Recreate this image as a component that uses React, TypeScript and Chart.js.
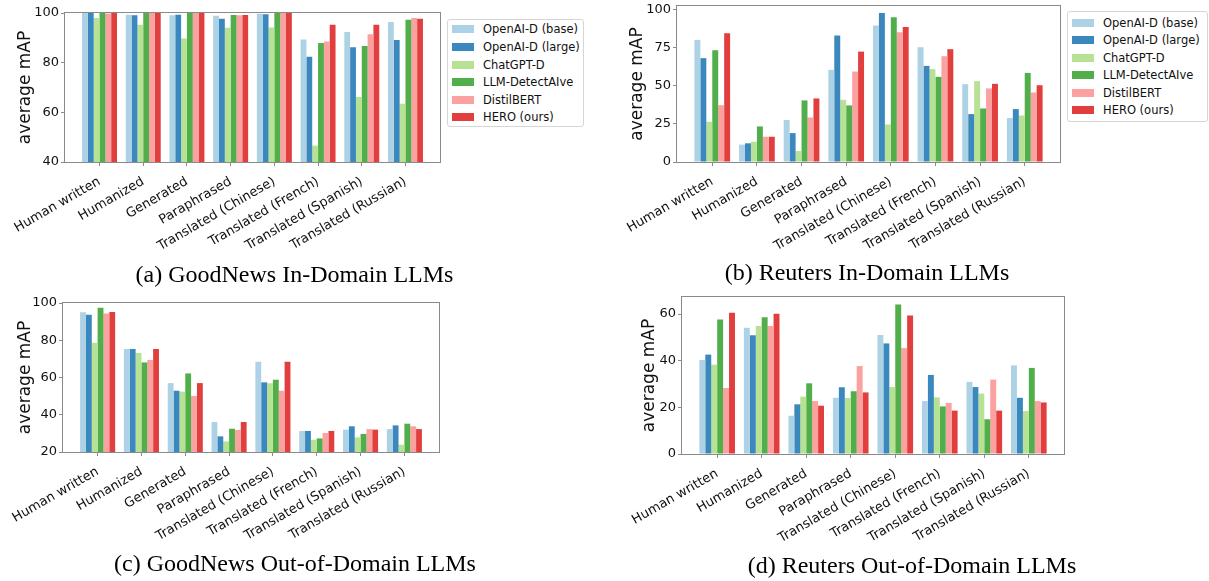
import React, { useEffect, useRef } from "react";
import { Chart, registerables } from "chart.js";

Chart.register(...registerables);

// ---------- data ----------
const categories = [
  "Human written",
  "Humanized",
  "Generated",
  "Paraphrased",
  "Translated (Chinese)",
  "Translated (French)",
  "Translated (Spanish)",
  "Translated (Russian)",
];

const seriesNames = [
  "OpenAI-D (base)",
  "OpenAI-D (large)",
  "ChatGPT-D",
  "LLM-DetectAIve",
  "DistilBERT",
  "HERO (ours)",
];

const seriesColors = [
  "rgba(166,206,227,0.92)",
  "rgba(31,120,180,0.88)",
  "rgba(178,223,138,0.92)",
  "rgba(51,160,44,0.85)",
  "rgba(251,154,153,0.92)",
  "rgba(220,30,30,0.86)",
];

// (a) GoodNews In-Domain
const aBase = [100, 99.3, 99.1, 98.9, 99.7, 89.3, 92.3, 96.4];
const aLarge = [100, 99.1, 99.3, 97.7, 99.5, 82.4, 86.2, 89.1];
const aChatGPT = [98.0, 95.3, 89.7, 94.1, 94.2, 46.6, 66.2, 63.5];
const aDetect = [100, 100, 100, 99.2, 100, 87.9, 86.7, 97.3];
const aDistil = [99.8, 100, 100, 99.1, 100, 88.5, 91.4, 98.0];
const aHero = [100, 100, 100, 99.2, 100, 95.3, 95.3, 97.7];

// (b) Reuters In-Domain
const bBase = [80.3, 11.4, 27.6, 60.6, 89.7, 75.5, 51.2, 28.9];
const bLarge = [68.3, 12.3, 19.0, 83.2, 98.0, 63.2, 31.5, 34.8];
const bChatGPT = [26.5, 13.3, 7.2, 40.9, 24.7, 61.1, 53.2, 30.6];
const bDetect = [73.5, 23.4, 40.5, 37.2, 95.2, 56.0, 35.2, 58.6];
const bDistil = [37.4, 16.6, 29.3, 59.5, 85.3, 69.6, 48.4, 45.7];
const bHero = [84.7, 16.6, 41.8, 72.6, 88.8, 74.2, 51.4, 50.5];

// (c) GoodNews Out-of-Domain
const cBase = [95.0, 75.3, 57.0, 36.1, 68.5, 31.3, 32.0, 32.3];
const cLarge = [93.7, 75.3, 52.9, 28.4, 57.4, 31.3, 33.8, 34.3];
const cChatGPT = [78.7, 73.2, 52.4, 25.7, 56.9, 26.6, 27.9, 23.9];
const cDetect = [97.5, 68.1, 62.2, 32.5, 58.8, 27.3, 29.7, 35.2];
const cDistil = [94.3, 69.4, 50.1, 31.8, 52.9, 30.2, 32.3, 33.8];
const cHero = [95.2, 75.3, 57.0, 36.1, 68.5, 31.3, 32.0, 32.3];

// (d) Reuters Out-of-Domain
const dBase = [40.3, 54.1, 16.4, 24.1, 51.0, 22.7, 30.9, 38.0];
const dLarge = [42.6, 50.9, 21.3, 28.6, 47.4, 33.9, 28.7, 24.1];
const dChatGPT = [38.3, 54.9, 24.6, 24.0, 28.7, 24.3, 25.9, 18.4];
const dDetect = [57.7, 58.6, 30.3, 26.9, 64.1, 20.4, 14.9, 36.9];
const dDistil = [28.3, 54.9, 22.7, 37.7, 45.4, 21.9, 31.9, 22.7];
const dHero = [60.6, 60.1, 20.7, 26.4, 59.4, 18.6, 18.6, 22.1];

const aTicks = [40, 60, 80, 100];
const bTicks = [0, 25, 50, 75, 100];
const cTicks = [20, 40, 60, 80, 100];
const dTicks = [0, 20, 40, 60];

const captionA = "(a) GoodNews In-Domain LLMs";
const captionB = "(b) Reuters In-Domain LLMs";
const captionC = "(c) GoodNews Out-of-Domain LLMs";
const captionD = "(d) Reuters Out-of-Domain LLMs";
const yTitle = "average mAP";

// ---------- layout ----------
const SANS = "'DejaVu Sans', sans-serif";
const SERIF = "'Liberation Serif', 'Times New Roman', serif";

type Panel = {
  series: number[][];
  yMin: number;
  yMax: number;
  yTicks: number[];
  left: number;
  top: number;
  w: number;
  h: number;
  yAxisW: number;
  xAxisH: number;
  padTop: number;
  padRight: number;
  titlePad: number;
};

const panels: Panel[] = [
  {
    series: [aBase, aLarge, aChatGPT, aDetect, aDistil, aHero],
    yMin: 40, yMax: 100, yTicks: aTicks,
    left: 0, top: 0, w: 445, h: 290, yAxisW: 65, xAxisH: 128, padTop: 13, padRight: 5, titlePad: 15,
  },
  {
    series: [bBase, bLarge, bChatGPT, bDetect, bDistil, bHero],
    yMin: 0, yMax: 102.6, yTicks: bTicks,
    left: 612, top: 0, w: 453, h: 290, yAxisW: 65, xAxisH: 128, padTop: 6, padRight: 5, titlePad: 15,
  },
  {
    series: [cBase, cLarge, cChatGPT, cDetect, cDistil, cHero],
    yMin: 20, yMax: 100, yTicks: cTicks,
    left: 0, top: 290, w: 444, h: 290, yAxisW: 63, xAxisH: 128, padTop: 13, padRight: 5, titlePad: 15,
  },
  {
    series: [dBase, dLarge, dChatGPT, dDetect, dDistil, dHero],
    yMin: 0, yMax: 67.3, yTicks: dTicks,
    left: 617, top: 285, w: 452, h: 290, yAxisW: 65, xAxisH: 121, padTop: 12, padRight: 5, titlePad: 22,
  },
];

const framePlugin = {
  id: "frame",
  afterDatasetsDraw(chart: any) {
    const { ctx, chartArea: a } = chart;
    ctx.save();
    ctx.strokeStyle = "#8a8a8a";
    ctx.lineWidth = 1;
    ctx.strokeRect(
      Math.round(a.left) - 0.5,
      Math.round(a.top) - 0.5,
      Math.round(a.right - a.left) + 1,
      Math.round(a.bottom - a.top) + 1
    );
    ctx.restore();
  },
};

function BarPanel({ p }: { p: Panel }) {
  const ref = useRef<HTMLCanvasElement>(null);
  useEffect(() => {
    const chart = new Chart(ref.current as HTMLCanvasElement, {
      type: "bar",
      data: {
        datasets: p.series.map((vals, s) => ({
          label: seriesNames[s],
          data: vals.map((v, i) => ({ x: i, y: v })),
          backgroundColor: seriesColors[s],
          borderWidth: 0,
          categoryPercentage: 0.8,
          barPercentage: 1.0,
        })),
      },
      options: {
        animation: false,
        responsive: false,
        maintainAspectRatio: false,
        layout: { padding: { top: p.padTop, right: p.padRight, left: 0, bottom: 0 } },
        plugins: { legend: { display: false }, tooltip: { enabled: false } },
        scales: {
          x: {
            type: "linear",
            min: -0.79,
            max: 7.79,
            offset: false,
            afterBuildTicks: (s: any) => {
              s.ticks = categories.map((_, i) => ({ value: i }));
            },
            afterFit: (s: any) => {
              s.height = p.xAxisH;
              s.paddingLeft = 0;
              s.paddingRight = 0;
            },
            ticks: {
              autoSkip: false,
              minRotation: 30,
              maxRotation: 30,
              padding: 8,
              color: "#111",
              font: { family: SANS, size: 13 },
              callback: (v: any) => categories[v] ?? "",
            },
            grid: { offset: false, drawOnChartArea: false, drawTicks: true, tickLength: 4, color: "#8a8a8a" },
            border: { display: false },
          },
          y: {
            type: "linear",
            min: p.yMin,
            max: p.yMax,
            afterBuildTicks: (s: any) => {
              s.ticks = p.yTicks.map((v) => ({ value: v }));
            },
            afterFit: (s: any) => {
              s.width = p.yAxisW;
              s.paddingTop = 0;
              s.paddingBottom = 0;
            },
            ticks: {
              padding: 2,
              color: "#111",
              font: { family: SANS, size: 13 },
              callback: (v: any) => String(v),
            },
            grid: { drawOnChartArea: false, drawTicks: true, tickLength: 4, color: "#8a8a8a" },
            border: { display: false },
            title: {
              display: true,
              text: yTitle,
              color: "#111",
              font: { family: SANS, size: 17 },
              padding: { top: p.titlePad, bottom: 0 },
            },
          },
        },
      } as any,
      plugins: [framePlugin],
    });
    return () => chart.destroy();
  }, []);
  return (
    <canvas
      ref={ref}
      width={p.w}
      height={p.h}
      style={{ position: "absolute", left: p.left, top: p.top, width: p.w, height: p.h }}
    />
  );
}

function Legend({ left, top, width, height, rowGap, firstRow }: { left: number; top: number; width: number; height: number; rowGap: number; firstRow: number }) {
  return (
    <div
      style={{
        position: "absolute",
        left,
        top,
        width,
        height,
        boxSizing: "border-box",
        border: "1px solid #d6d6d6",
        borderRadius: 3,
        background: "rgba(255,255,255,0.85)",
      }}
    >
      {seriesNames.map((name, i) => (
        <div
          key={name}
          style={{
            position: "absolute",
            left: 0,
            top: firstRow + i * rowGap - 9,
            height: 18,
            display: "flex",
            alignItems: "center",
            whiteSpace: "nowrap",
          }}
        >
          <div style={{ marginLeft: 4, width: 22, height: 8, background: seriesColors[i] }} />
          <span style={{ marginLeft: 9, font: `11.5px ${SANS}`, color: "#111" }}>{name}</span>
        </div>
      ))}
    </div>
  );
}

function Caption({ text, cx, top }: { text: string; cx: number; top: number }) {
  return (
    <div
      style={{
        position: "absolute",
        left: cx,
        top,
        transform: "translateX(-50%)",
        font: `24px ${SERIF}`,
        lineHeight: "24px",
        whiteSpace: "nowrap",
        color: "#000",
      }}
    >
      {text}
    </div>
  );
}

export default function App() {
  return (
    <div style={{ position: "fixed", left: 0, top: 0, width: 1209, height: 581, background: "#fff", overflow: "hidden" }}>
      {panels.map((p, i) => (
        <BarPanel key={i} p={p} />
      ))}
      <Legend left={447} top={19} width={137} height={108} rowGap={17.6} firstRow={9.3} />
      <Legend left={1067} top={11} width={141} height={111} rowGap={17.5} firstRow={10.5} />
      <Caption text={captionA} cx={294.5} top={262} />
      <Caption text={captionB} cx={867} top={260} />
      <Caption text={captionC} cx={295} top={551} />
      <Caption text={captionD} cx={912} top={553} />
    </div>
  );
}
